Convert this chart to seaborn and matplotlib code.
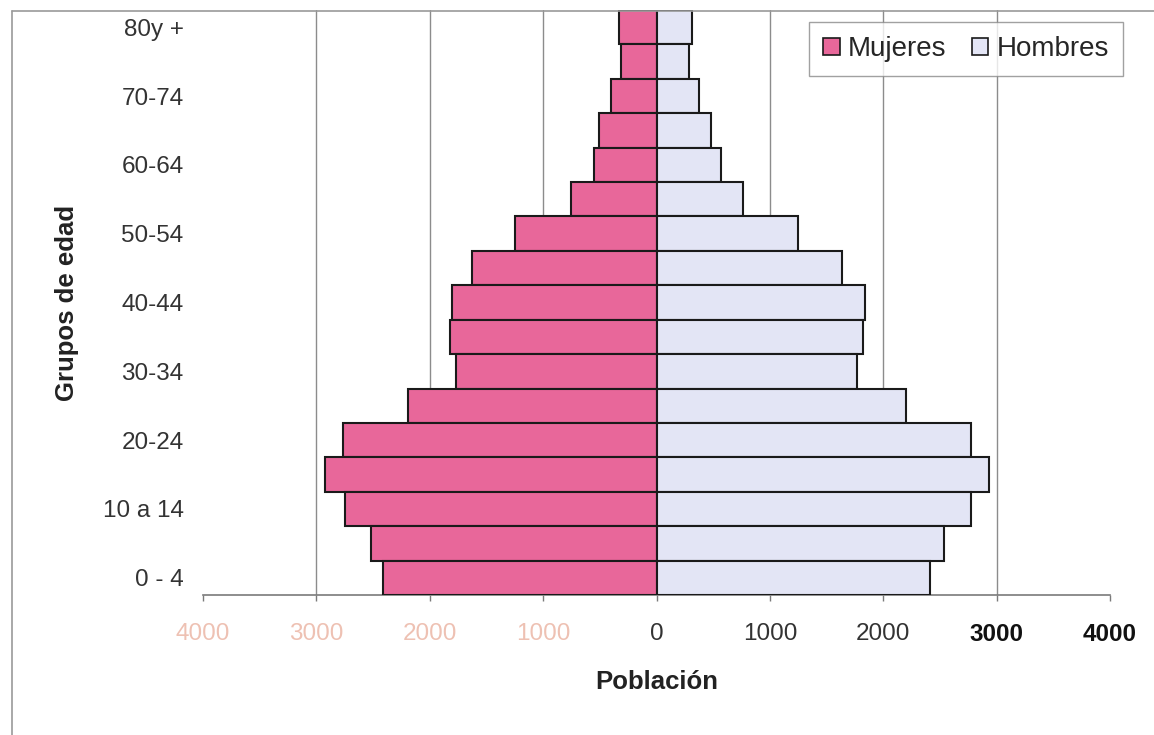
import matplotlib
matplotlib.use("Agg")
import matplotlib.pyplot as plt
from matplotlib.patches import Patch
from matplotlib.lines import Line2D
import numpy as np
import pandas as pd
import seaborn as sns

# Age groups, youngest first
grupos = ["0 - 4", "5-9", "10 a 14", "15-19", "20-24", "25-29", "30-34",
          "35-39", "40-44", "45-49", "50-54", "55-59", "60-64", "65-69",
          "70-74", "75-79", "80y +"]
mujeres = [2415, 2515, 2745, 2920, 2765, 2195, 1765, 1820, 1805, 1625,
           1245, 750, 555, 505, 400, 315, 335]
hombres = [2415, 2535, 2770, 2935, 2770, 2200, 1765, 1825, 1835, 1640,
           1250, 760, 565, 480, 375, 290, 310]
x_ticks = [-4000, -3000, -2000, -1000, 0, 1000, 2000, 3000, 4000]
x_tick_labels = ["4000", "3000", "2000", "1000", "0", "1000", "2000", "3000", "4000"]

sns.set_style("white")
plt.rcParams["font.family"] = ["Liberation Sans", "DejaVu Sans"]

df = pd.DataFrame({
    "grupo": grupos * 2,
    "valor": [-v for v in mujeres] + hombres,
    "sexo": ["Mujeres"] * len(grupos) + ["Hombres"] * len(grupos),
})

col_m = "#e8679a"
col_h = "#e3e5f5"

fig = plt.figure(figsize=(11.54, 7.35), dpi=100)
ax = fig.add_axes([203 / 1154, 1 - 595 / 735, 907 / 1154, 585 / 735])

order = grupos[::-1]  # oldest at the top
sns.barplot(data=df, x="valor", y="grupo", hue="sexo", order=order,
            hue_order=["Mujeres", "Hombres"], palette=[col_m, col_h],
            dodge=False, width=1.0, orient="h", edgecolor="#1a1a1a",
            linewidth=1.5, saturation=1, legend=False, ax=ax, zorder=3)

ax.set_xlim(-4000, 4000)
ax.set_ylim(len(grupos) - 0.5, -0.5)

# vertical gridlines
for v in x_ticks[1:-1]:
    ax.axvline(v, color="#8c8c8c", lw=1.0, zorder=1)

for s in ["top", "right", "left"]:
    ax.spines[s].set_visible(False)
ax.spines["bottom"].set_color("#7a7a7a")
ax.spines["bottom"].set_linewidth(1.2)

ax.set_xticks(x_ticks)
ax.set_xticklabels(x_tick_labels, fontsize=17.5)
ax.tick_params(axis="x", bottom=True, direction="out", length=4, width=1,
               color="#7a7a7a", pad=16)
for lbl, v in zip(ax.get_xticklabels(), x_ticks):
    if v < 0:
        lbl.set_color("#eec1b3")
    elif v >= 3000:
        lbl.set_color("#111111")
        lbl.set_fontweight("bold")
    else:
        lbl.set_color("#333333")

# show every other age group
pos = [order.index(g) for g in grupos[::2]]
ax.set_yticks(pos)
ax.set_yticklabels(grupos[::2], fontsize=17.5, color="#333333")
ax.tick_params(axis="y", left=False, length=0, pad=14)

ax.set_xlabel("Población", fontsize=18.5, fontweight="bold", color="#222222")
ax.xaxis.set_label_coords(0.5, -0.128)
ax.set_ylabel("Grupos de edad", fontsize=18.5, fontweight="bold", color="#222222")
ax.yaxis.set_label_coords(-0.137, 0.5)

handles = [Patch(facecolor=col_m, edgecolor="#1a1a1a", linewidth=1.2),
           Patch(facecolor=col_h, edgecolor="#1a1a1a", linewidth=1.2)]
leg = ax.legend(handles, ["Mujeres", "Hombres"], ncol=2, fontsize=20,
                loc="upper right", bbox_to_anchor=(1.0143, 0.979),
                frameon=True, fancybox=False, handlelength=0.6,
                handleheight=0.6, handletextpad=0.3, columnspacing=0.9,
                borderpad=0.5, borderaxespad=0)
leg.get_frame().set_edgecolor("#8a8a8a")
leg.get_frame().set_linewidth(1.0)

# chart area border (left and top edges)
fig.add_artist(Line2D([12 / 1154, 12 / 1154], [0, 1 - 11 / 735],
                      transform=fig.transFigure, color="#9a9a9a", lw=1.2))
fig.add_artist(Line2D([12 / 1154, 1], [1 - 11 / 735, 1 - 11 / 735],
                      transform=fig.transFigure, color="#9a9a9a", lw=1.2))

fig.savefig("out.png", dpi=100)
